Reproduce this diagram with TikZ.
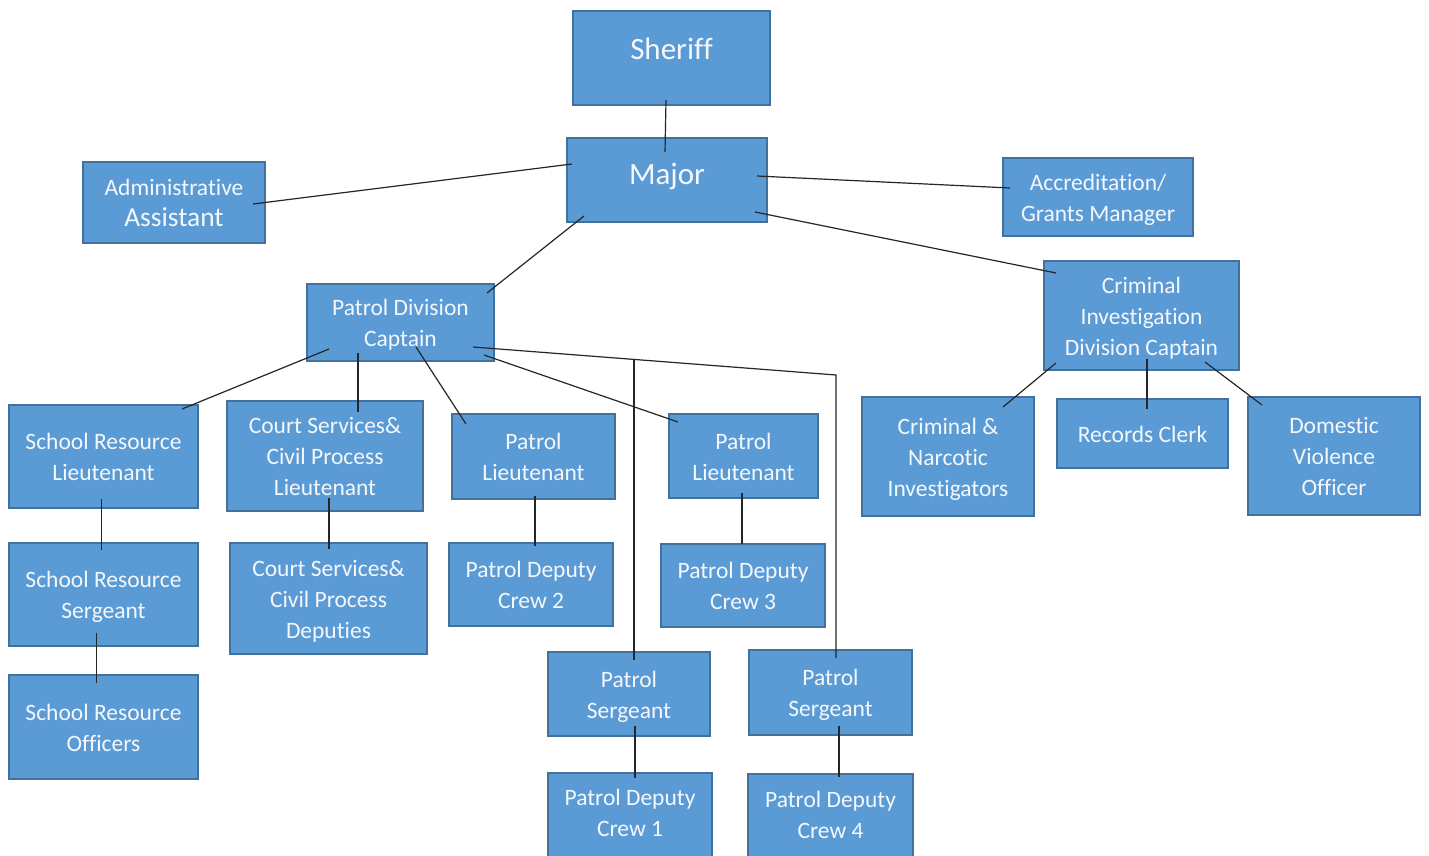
\documentclass[tikz,border=0pt]{standalone}
\usepackage{fontspec}
\setmainfont{Carlito}[Ligatures=NoCommon]
\usetikzlibrary{calc}
\definecolor{boxfill}{HTML}{5B9BD5}
\definecolor{boxline}{HTML}{41719C}
\definecolor{boxtext}{HTML}{F4F7FB}
\newcommand\orgbox[7]{%
  \node[orgrect, minimum width={(#4-#2)*0.5pt}, minimum height={(#5-#3)*0.5pt}] (#1) at ({(#2+#4)/2},{(#3+#5)/2}) {};
  \node[orgtext] (#1-t) at ($(#1.center)+(0,{#6+3})$) {#7};
}
\newcommand\bigtxt{\fontsize{15.5}{19}\selectfont}
\newcommand\midtxt{\fontsize{13.7}{17}\selectfont}
\tikzset{
  orgrect/.style={draw=boxline, fill=boxfill, line width=1pt, inner sep=0pt, outer sep=0pt, rectangle},
  orgtext/.style={text=boxtext, align=center, inner sep=0pt, font=\fontsize{11.75}{15.5}\selectfont,
    execute at begin node={\rule{0pt}{0.7em}}, execute at end node={\rule[-0.22em]{0pt}{0.22em}}},
  link/.style={draw=black!85, line width=0.6pt}
}
\begin{document}
\begin{tikzpicture}[x=0.5pt,y=-0.5pt]
\useasboundingbox (0,0) rectangle (1429,856);
\clip (0,0) rectangle (1429,856);
\fill[white] (0,0) rectangle (1429,856);
% boxes
\orgbox{sh}{573}{11}{770}{105}{-10}{\bigtxt Sheriff}
\orgbox{maj}{567}{138}{767}{222}{-7}{\bigtxt Major}
\orgbox{adm}{83}{162}{265}{243}{0}{Administrative\\{\midtxt Assistant}}
\orgbox{acc}{1003}{158}{1193}{236}{0}{Accreditation/\\Grants Manager}
\orgbox{pdc}{307}{284}{494}{361}{0}{Patrol Division\\Captain}
\orgbox{cid}{1044}{261}{1239}{370}{0}{Criminal\\Investigation\\Division Captain}
\orgbox{srl}{9}{405}{198}{508}{0}{School Resource\\Lieutenant}
\orgbox{csl}{227}{401}{423}{511}{0}{Court Services\&\\Civil Process\\Lieutenant}
\orgbox{pl1}{452}{414}{615}{499}{0}{Patrol\\Lieutenant}
\orgbox{pl2}{669}{414}{818}{498}{0}{Patrol\\Lieutenant}
\orgbox{cni}{862}{397}{1034}{516}{0}{Criminal \&\\Narcotic\\Investigators}
\orgbox{rec}{1057}{399}{1228}{468}{0}{Records Clerk}
\orgbox{dvo}{1248}{397}{1420}{515}{0}{Domestic\\Violence\\Officer}
\orgbox{srs}{9}{543}{198}{646}{0}{School Resource\\Sergeant}
\orgbox{csd}{230}{543}{427}{654}{0}{Court Services\&\\Civil Process\\Deputies}
\orgbox{pc2}{449}{543}{613}{626}{0}{Patrol Deputy\\Crew 2}
\orgbox{pc3}{661}{544}{825}{627}{0}{Patrol Deputy\\Crew 3}
\orgbox{ps1}{548}{652}{710}{736}{0}{Patrol\\Sergeant}
\orgbox{ps2}{749}{650}{912}{735}{0}{Patrol\\Sergeant}
\orgbox{sro}{9}{675}{198}{779}{0}{School Resource\\Officers}
\orgbox{pc1}{548}{773}{712}{880}{-14.5}{Patrol Deputy\\Crew 1}
\orgbox{pc4}{748}{774}{913}{880}{-13}{Patrol Deputy\\Crew 4}
% connectors
\draw[link] ($(sh.center)+(-5.5,42)$) -- ($(maj.center)+(-2,-28)$);
\draw[link] ($(maj.center)+(-95,-16)$) -- ($(adm.center)+(79,1.5)$);
\draw[link] ($(maj.center)+(90,-4)$) -- ($(acc.center)+(-88,-9)$);
\draw[link] ($(maj.center)+(88,32)$) -- ($(cid.center)+(-85.5,-42.5)$);
\draw[link] ($(maj.center)+(-83,36)$) -- ($(pdc.center)+(86.5,-29.5)$);
\draw[link] ($(pdc.center)+(-71.5,26.5)$) -- ($(srl.center)+(78.5,-47.5)$);
\draw[link] ($(pdc.center)+(-42.5,30.5)$) -- ($(csl.center)+(33,-44)$);
\draw[link] ($(pdc.center)+(15.5,24.5)$) -- ($(pl1.center)+(-67.5,-32.5)$);
\draw[link] ($(pdc.center)+(83.5,32.5)$) -- ($(pl2.center)+(-65.5,-34)$);
\coordinate (pdcR) at ($(pdc.center)+(72.5,24.5)$);
\coordinate (bend) at ($(ps2.center)+(5.5,-317.5)$);
\coordinate (tap) at ($(pdcR)!0.4435!(bend)$);
\coordinate (ps1top) at ($(ps1.center)+(5,-34)$);
\draw[link] (pdcR) -- (bend) -- ($(ps2.center)+(5.5,-34.5)$);
\draw[link] (tap) -- (tap |- ps1top);
\draw[link] ($(srl.center)+(-1.8,42.5)$) -- ($(srs.center)+(-1.8,-44.5)$);
\draw[link] ($(srs.center)+(-7.2,38.5)$) -- ($(sro.center)+(-7.2,-44)$);
\draw[link] ($(csl.center)+(4,42)$) -- ($(csd.center)+(0.5,-49.5)$);
\draw[link] ($(pl1.center)+(1.5,39.5)$) -- ($(pc2.center)+(4,-38.5)$);
\draw[link] ($(pl2.center)+(-1.5,37)$) -- ($(pc3.center)+(-1,-41.5)$);
\draw[link] ($(ps1.center)+(6,32)$) -- ($(pc1.center)+(5,-48.5)$);
\draw[link] ($(ps2.center)+(8.5,33.5)$) -- ($(pc4.center)+(8.5,-50)$);
\draw[link] ($(cid.center)+(-85.5,47.5)$) -- ($(cni.center)+(55,-49.5)$);
\draw[link] ($(cid.center)+(5.5,43.5)$) -- ($(rec.center)+(4.5,-24.5)$);
\draw[link] ($(cid.center)+(63.5,46.5)$) -- ($(dvo.center)+(-72,-51)$);
\end{tikzpicture}
\end{document}
